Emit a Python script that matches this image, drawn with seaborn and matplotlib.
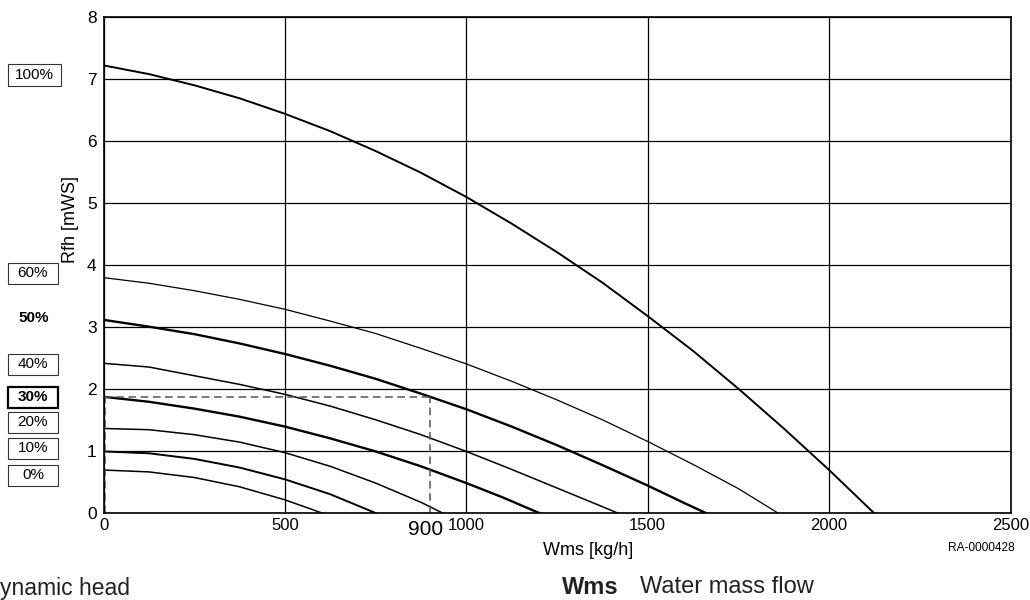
import matplotlib
matplotlib.use("Agg")
import matplotlib.pyplot as plt
import seaborn as sns
import pandas as pd

# ---- data ----
levels = ["100%", "60%", "50%", "40%", "30%", "20%", "10%", "0%"]
wms_100 = [0, 125, 250, 375, 500, 625, 750, 875, 1000, 1125, 1250, 1375,
           1500, 1625, 1750, 1875, 2000, 2125]
rfh_100 = [7.22, 7.08, 6.90, 6.69, 6.44, 6.16, 5.84, 5.49, 5.10, 4.67, 4.21,
           3.72, 3.18, 2.62, 2.01, 1.37, 0.70, 0.0]
wms_60 = [0, 125, 250, 375, 500, 625, 750, 875, 1000, 1125, 1250, 1375,
          1500, 1625, 1750, 1861]
rfh_60 = [3.80, 3.71, 3.59, 3.45, 3.29, 3.10, 2.90, 2.66, 2.41, 2.13, 1.83,
          1.51, 1.16, 0.79, 0.40, 0.0]
wms_50 = [0, 125, 250, 375, 500, 625, 750, 875, 1000, 1125, 1250, 1375,
          1500, 1600, 1663]
rfh_50 = [3.12, 3.01, 2.89, 2.74, 2.57, 2.38, 2.17, 1.93, 1.68, 1.40, 1.10,
          0.78, 0.45, 0.17, 0.0]
wms_40 = [0, 125, 250, 375, 500, 625, 750, 875, 1000, 1125, 1250, 1375, 1420]
rfh_40 = [2.42, 2.36, 2.22, 2.08, 1.92, 1.73, 1.51, 1.27, 1.0, 0.71, 0.41,
          0.11, 0.0]
wms_30 = [0, 125, 250, 375, 500, 625, 750, 875, 1000, 1100, 1204]
rfh_30 = [1.88, 1.80, 1.69, 1.56, 1.40, 1.21, 1.0, 0.76, 0.49, 0.26, 0.0]
wms_20 = [0, 125, 250, 375, 500, 625, 750, 875, 937]
rfh_20 = [1.37, 1.35, 1.27, 1.15, 0.98, 0.76, 0.49, 0.18, 0.0]
wms_10 = [0, 125, 250, 375, 500, 625, 753]
rfh_10 = [1.00, 0.97, 0.88, 0.74, 0.55, 0.31, 0.0]
wms_0 = [0, 125, 250, 375, 500, 606]
rfh_0 = [0.70, 0.67, 0.58, 0.43, 0.22, 0.0]

op_wms = 900
op_rfh = 1.88

x_ticks = [0, 500, 1000, 1500, 2000, 2500]
y_ticks = [0, 1, 2, 3, 4, 5, 6, 7, 8]

series = {
    "100%": (wms_100, rfh_100),
    "60%": (wms_60, rfh_60),
    "50%": (wms_50, rfh_50),
    "40%": (wms_40, rfh_40),
    "30%": (wms_30, rfh_30),
    "20%": (wms_20, rfh_20),
    "10%": (wms_10, rfh_10),
    "0%": (wms_0, rfh_0),
}
frames = []
for lvl in levels:
    xs, ys = series[lvl]
    frames.append(pd.DataFrame({"Wms": xs, "Rfh": ys, "level": lvl}))
df = pd.concat(frames, ignore_index=True)

# ---- styling ----
sns.set_theme(style="white")
plt.rcParams["font.family"] = ["Liberation Sans", "DejaVu Sans"]

fig = plt.figure(figsize=(10.3, 6.0), dpi=100)
ax = fig.add_axes([0.1005, 0.1442, 0.8806, 0.8275])

widths = {"100%": 1.4, "60%": 0.9, "50%": 1.7, "40%": 1.1,
          "30%": 1.7, "20%": 1.1, "10%": 1.4, "0%": 1.1}
for lvl in levels:
    sub = df[df["level"] == lvl]
    sns.lineplot(data=sub, x="Wms", y="Rfh", ax=ax, color="black",
                 linewidth=widths[lvl], sort=False, estimator=None,
                 legend=False)

# dashed operating-point guides
ax.plot([0, op_wms], [op_rfh, op_rfh], color="#555555", lw=1.1,
        dashes=(5, 3))
ax.plot([op_wms, op_wms], [0, op_rfh], color="#555555", lw=1.1,
        dashes=(5, 3))
ax.plot([4, 4], [0, op_rfh], color="#555555", lw=1.1, dashes=(5, 3))

ax.set_xlim(0, 2500)
ax.set_ylim(0, 8)
ax.set_xticks(x_ticks)
ax.set_yticks(y_ticks)
ax.set_xticklabels([str(v) for v in x_ticks], fontsize=12)
ax.set_yticklabels([str(v) for v in y_ticks], fontsize=12.5)
ax.tick_params(axis="both", length=0, colors="black")
ax.tick_params(axis="x", pad=3)
ax.tick_params(axis="y", pad=5)
ax.grid(True, color="black", linewidth=0.9)
for s in ax.spines.values():
    s.set_color("black")
    s.set_linewidth(1.2)

ax.set_xlabel("Wms [kg/h]", fontsize=13, color="black")
ax.set_ylabel("Rfh [mWS]", fontsize=13, color="black")
ax.xaxis.set_label_coords((588 - 103.5) / 906.5, -(542 - 513.5) / 496.5)
ax.yaxis.set_label_coords(-(103.5 - 79) / 906.5, (513.5 - 220) / 496.5)

# "900" marker label
ax.annotate("900", xy=(op_wms, 0), xytext=(-4, -16),
            textcoords="offset pixels", fontsize=15, ha="center",
            va="center", color="black", annotation_clip=False)

# ---- left-side level boxes (figure pixel positions) ----
W, H = 1030.0, 600.0
box_y = {"100%": 75, "60%": 273, "50%": 318, "40%": 364, "30%": 397,
         "20%": 422, "10%": 448, "0%": 475}
for lvl in levels:
    y = 1 - box_y[lvl] / H
    bold = lvl in ("50%", "30%")
    if lvl == "50%":
        fig.text(34 / W, y, lvl, fontsize=11, fontweight="bold",
                 ha="center", va="center", color="black")
        continue
    width = 53 if lvl == "100%" else 50
    fig.text((8 + width / 2) / W, y, lvl, fontsize=11,
             fontweight="bold" if bold else "normal",
             ha="center", va="center", color="black")
    rect = plt.Rectangle((8 / W, y - 10.5 / H), width / W, 21 / H,
                         transform=fig.transFigure, fill=False,
                         edgecolor="black" if bold else "#333333",
                         linewidth=1.6 if bold else 0.8)
    fig.add_artist(rect)

# ---- footer texts ----
fig.text(981 / W, 1 - 548 / H, "RA-0000428", fontsize=8.6, ha="center",
         va="center", color="black")
fig.text(0 / W, 1 - 589 / H, "ynamic head", fontsize=16.5, ha="left",
         va="center", color="#222222")
fig.text(562 / W, 1 - 587 / H, "Wms", fontsize=17, fontweight="bold",
         ha="left", va="center", color="#222222")
fig.text(640 / W, 1 - 587 / H, "Water mass flow", fontsize=17, ha="left",
         va="center", color="#222222")

fig.savefig("out.png", dpi=100, facecolor="white")
